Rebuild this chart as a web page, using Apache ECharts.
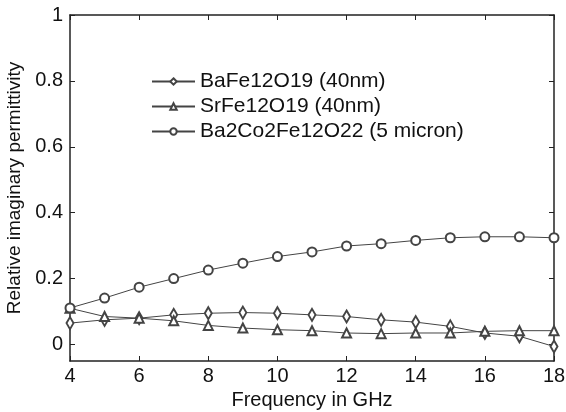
<!DOCTYPE html>
<html><head><meta charset="utf-8">
<script src="https://cdn.jsdelivr.net/npm/echarts@6/dist/echarts.min.js"></script>
<style>html,body{margin:0;padding:0;background:#fff}#c{width:566px;height:412px}</style>
</head><body><div id="c"></div>
<script>
const freq = [4,5,6,7,8,9,10,11,12,13,14,15,16,17,18];
const baFe = [0.065,0.075,0.080,0.090,0.095,0.097,0.095,0.090,0.085,0.075,0.068,0.055,0.035,0.025,-0.006];
const srFe = [0.110,0.085,0.080,0.072,0.058,0.050,0.045,0.042,0.035,0.033,0.035,0.035,0.040,0.042,0.042];
const baCo = [0.111,0.141,0.174,0.200,0.226,0.247,0.267,0.281,0.299,0.306,0.316,0.324,0.327,0.327,0.324];
const names = ['BaFe12O19 (40nm)','SrFe12O19 (40nm)','Ba2Co2Fe12O22 (5 micron)'];
const yTicks = [0,0.2,0.4,0.6,0.8,1];

const font = 'Liberation Sans, Arial, sans-serif';
const axisCol = '#222';
function mk(arr){ return freq.map((f,i)=>[f,arr[i]]); }
function ser(name, data, sym, size){
  return {name, type:'line', data:mk(data), symbol:sym, symbolSize:size,
    lineStyle:{color:'#444', width:1}, itemStyle:{color:'#444', borderColor:'#444', borderWidth:1},
    emphasis:{disabled:true}, animation:false};
}
const chart = echarts.init(document.getElementById('c'));
chart.setOption({
  animation:false,
  grid:{left:70, right:12, top:15, bottom:51, containLabel:false, outerBoundsMode:'none'},
  legend:{
    left:146, top:66, orient:'vertical', itemWidth:43, itemHeight:8, itemGap:4,
    textStyle:{fontFamily:font, fontSize:21, color:'#111', padding:[6,0,0,0]},
    data:names
  },
  xAxis:[{
    type:'value', min:4, max:18, interval:2,
    name:'Frequency in GHz', nameLocation:'middle', nameGap:28,
    nameTextStyle:{fontFamily:font, fontSize:20, color:'#111'},
    axisLine:{onZero:false, lineStyle:{color:axisCol, width:1.5}},
    axisTick:{inside:true, length:5, lineStyle:{color:axisCol}},
    axisLabel:{fontFamily:font, fontSize:20, color:'#111', margin:5},
    splitLine:{show:false}
  },{
    type:'value', min:4, max:18, interval:2, position:'top',
    axisLine:{onZero:false, lineStyle:{color:axisCol, width:1.5}},
    axisTick:{inside:true, length:5, lineStyle:{color:axisCol}},
    axisLabel:{show:false}, splitLine:{show:false}
  }],
  yAxis:[{
    type:'value', min:-0.05, max:1,
    name:'Relative imaginary permittivity', nameLocation:'middle', nameGap:42,
    nameTextStyle:{fontFamily:font, fontSize:19, color:'#111'},
    axisLine:{show:true, onZero:false, lineStyle:{color:axisCol, width:1.5}},
    axisTick:{show:true, inside:true, length:5, lineStyle:{color:axisCol}, customValues:yTicks},
    axisLabel:{fontFamily:font, fontSize:20, color:'#111', margin:7, customValues:yTicks,
      formatter:v=>String(Math.round(v*10)/10)},
    splitLine:{show:false}
  },{
    type:'value', min:-0.05, max:1, position:'right',
    axisLine:{show:true, onZero:false, lineStyle:{color:axisCol, width:1.5}},
    axisTick:{show:true, inside:true, length:5, lineStyle:{color:axisCol}, customValues:yTicks},
    axisLabel:{show:false}, splitLine:{show:false}
  }],
  series:[
    ser(names[0], baFe, 'emptyDiamond', [7,12]),
    ser(names[1], srFe, 'emptyTriangle', 9),
    ser(names[2], baCo, 'emptyCircle', 9)
  ]
});
</script></body></html>
